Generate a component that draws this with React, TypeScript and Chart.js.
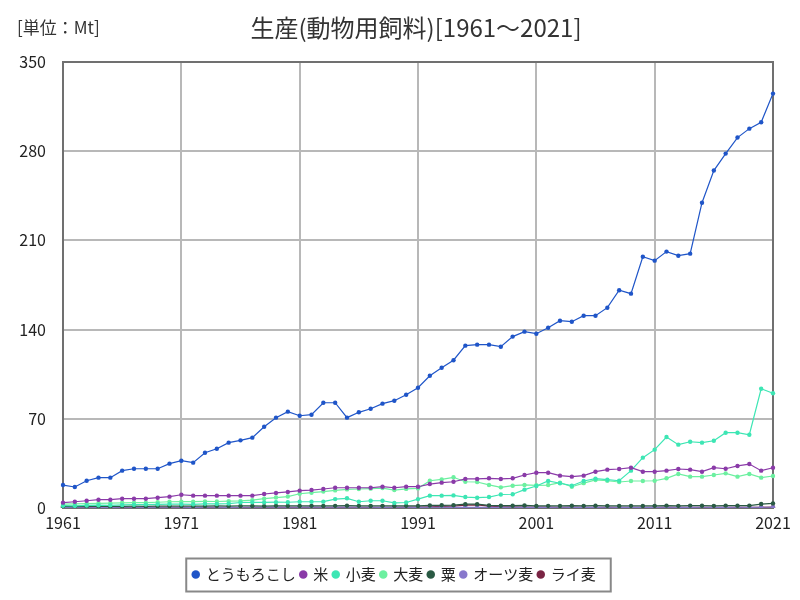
import React, { useEffect, useRef } from "react";
import { Chart, registerables } from "chart.js";

Chart.register(...registerables);

const years = [
  "1961","1962","1963","1964","1965","1966","1967","1968","1969","1970",
  "1971","1972","1973","1974","1975","1976","1977","1978","1979","1980",
  "1981","1982","1983","1984","1985","1986","1987","1988","1989","1990",
  "1991","1992","1993","1994","1995","1996","1997","1998","1999","2000",
  "2001","2002","2003","2004","2005","2006","2007","2008","2009","2010",
  "2011","2012","2013","2014","2015","2016","2017","2018","2019","2020","2021",
];
const xTickLabels = ["1961", "1971", "1981", "1991", "2001", "2011", "2021"];
const yTicks = [0, 70, 140, 210, 280, 350];

const corn = [
  18.0, 16.5, 21.4, 23.8, 23.8, 29.3, 30.8, 30.8, 30.8, 34.8,
  37.1, 35.6, 43.4, 46.5, 51.3, 53.1, 55.2, 63.8, 70.9, 75.6,
  72.4, 73.2, 82.6, 82.6, 70.9, 75.1, 77.9, 81.9, 84.2, 88.9,
  94.4, 103.8, 110.1, 116.0, 127.4, 128.2, 128.2, 126.6, 134.5, 138.4,
  136.8, 141.5, 147.0, 146.2, 150.9, 150.9, 157.2, 170.9, 168.2, 197.2,
  194.1, 201.2, 198.0, 199.6, 239.6, 264.8, 278.1, 290.7, 297.7, 302.7, 325.2,
];
const rice = [
  4.2, 4.9, 5.7, 6.5, 6.5, 7.3, 7.3, 7.3, 8.1, 8.9,
  10.4, 9.7, 9.7, 9.7, 9.7, 9.7, 9.7, 11.0, 11.8, 12.6,
  13.6, 14.1, 14.9, 15.9, 15.9, 15.9, 15.9, 16.7, 15.9, 16.7,
  16.7, 18.8, 19.9, 20.6, 22.8, 22.8, 23.3, 22.8, 23.3, 25.9,
  27.7, 27.7, 25.4, 24.6, 25.4, 28.5, 30.1, 30.6, 31.6, 28.5,
  28.5, 29.3, 30.6, 30.1, 28.5, 31.6, 30.8, 33.0, 34.5, 29.3, 31.6,
];
const wheat = [
  1.8, 1.6, 2.0, 2.2, 2.1, 2.4, 2.6, 2.7, 2.9, 3.1,
  3.0, 2.9, 3.3, 3.2, 3.5, 4.3, 4.5, 4.4, 4.6, 4.5,
  4.9, 4.9, 5.0, 7.0, 7.6, 4.9, 5.7, 5.7, 4.0, 4.3,
  7.0, 9.7, 9.7, 9.9, 8.6, 8.1, 8.6, 10.6, 10.8, 14.4,
  17.3, 21.2, 19.4, 17.5, 21.2, 23.0, 22.2, 21.4, 29.3, 39.5,
  45.8, 55.7, 49.7, 52.0, 51.3, 52.8, 59.1, 59.1, 57.5, 93.6, 90.0,
];
const barley = [
  3.1, 3.3, 3.4, 3.7, 3.8, 4.1, 4.2, 4.2, 4.5, 4.9,
  5.0, 5.0, 5.2, 5.1, 5.4, 5.6, 6.2, 7.3, 8.2, 9.0,
  11.2, 12.0, 12.9, 13.8, 14.6, 14.9, 15.2, 15.6, 14.1, 15.0,
  15.4, 21.4, 22.4, 24.1, 20.6, 20.4, 18.1, 16.2, 17.5, 18.1,
  17.8, 18.0, 19.9, 16.7, 19.5, 22.0, 21.4, 20.4, 21.2, 21.2,
  21.4, 23.3, 26.7, 24.6, 24.6, 25.9, 27.2, 24.6, 26.7, 23.8, 25.1,
];
const millet = [
  1.2, 1.1, 1.2, 1.3, 1.2, 1.3, 1.4, 1.3, 1.4, 1.5,
  1.5, 1.4, 1.5, 1.6, 1.5, 1.6, 1.6, 1.5, 1.7, 1.6,
  1.6, 1.7, 1.6, 1.7, 1.8, 1.7, 1.6, 1.7, 1.6, 1.7,
  1.6, 2.0, 2.1, 2.2, 3.0, 3.0, 2.0, 1.8, 1.8, 2.0,
  1.6, 1.7, 1.6, 1.8, 1.7, 1.8, 1.7, 1.6, 1.7, 1.6,
  1.7, 1.9, 1.7, 1.9, 1.8, 1.7, 1.9, 1.8, 1.9, 3.1, 3.6,
];
const oats = [
  0.5, 0.5, 0.6, 0.5, 0.5, 0.6, 0.6, 0.5, 0.6, 0.6,
  0.6, 0.5, 0.6, 0.6, 0.5, 0.6, 0.6, 0.6, 0.7, 0.6,
  0.6, 0.7, 0.6, 0.6, 0.7, 0.6, 0.6, 0.5, 0.6, 0.6,
  0.5, 0.6, 0.6, 0.5, 0.5, 0.6, 0.5, 0.5, 0.6, 0.5,
  0.5, 0.5, 0.6, 0.5, 0.5, 0.5, 0.6, 0.5, 0.5, 0.5,
  0.5, 0.6, 0.5, 0.5, 0.6, 0.5, 0.5, 0.6, 0.5, 0.6, 0.6,
];
const rye = [
  0.3, 0.3, 0.4, 0.3, 0.3, 0.4, 0.4, 0.3, 0.4, 0.4,
  0.4, 0.4, 0.4, 0.5, 0.4, 0.4, 0.5, 0.4, 0.5, 0.5,
  0.5, 0.5, 0.6, 0.5, 0.6, 0.6, 0.5, 0.6, 0.6, 0.7,
  0.8, 1.0, 1.2, 1.5, 2.2, 2.4, 1.4, 1.0, 0.9, 0.8,
  0.7, 0.7, 0.6, 0.7, 0.6, 0.6, 0.6, 0.5, 0.6, 0.5,
  0.5, 0.6, 0.5, 0.6, 0.6, 0.5, 0.6, 0.5, 0.6, 0.6, 0.7,
];

const seriesNames = ["とうもろこし", "米", "小麦", "大麦", "粟", "オーツ麦", "ライ麦"];
const seriesValues = [corn, rice, wheat, barley, millet, oats, rye];
const seriesColors = ["#1f55c8", "#8a3aa8", "#3de6b4", "#6cf0a0", "#2a5a44", "#8878cc", "#7a2444"];

const titleText = "生産(動物用飼料)[1961～2021]";
const unitText = "[単位：Mt]";

const FONT = "'Noto Sans CJK JP', 'Noto Sans', sans-serif";

const decorPlugin = {
  id: "decor",
  afterLayout(chart: any) {
    const lg = chart.legend;
    if (lg) {
      lg.left += 8;
      lg.right += 8;
    }
  },
  beforeDatasetsDraw(chart: any) {
    const { ctx, chartArea: a } = chart;
    ctx.save();
    ctx.strokeStyle = "#707070";
    ctx.lineWidth = 2;
    ctx.strokeRect(a.left, a.top, a.right - a.left, a.bottom - a.top);
    ctx.restore();
  },
  afterDraw(chart: any) {
    const { ctx } = chart;
    ctx.save();
    ctx.fillStyle = "#333333";
    ctx.textBaseline = "middle";
    ctx.font = `24px ${FONT}`;
    ctx.textAlign = "center";
    ctx.fillText(titleText, 416, 28);
    ctx.font = `17px ${FONT}`;
    ctx.textAlign = "left";
    ctx.fillText(unitText, 17, 28);
    const lg = chart.legend;
    const hb = lg && lg.legendHitBoxes;
    if (hb && hb.length) {
      let l = Infinity, r = -Infinity, t = Infinity, b = -Infinity;
      for (const h of hb) {
        l = Math.min(l, h.left);
        r = Math.max(r, h.left + h.width);
        t = Math.min(t, h.top);
        b = Math.max(b, h.top + h.height);
      }
      const cy = (t + b) / 2;
      ctx.strokeStyle = "#888888";
      ctx.lineWidth = 2;
      ctx.strokeRect(l - 7, cy - 16, r - l + 22, 33);
    }
    ctx.restore();
  },
};

export default function App() {
  const ref = useRef<HTMLCanvasElement | null>(null);
  useEffect(() => {
    if (!ref.current) return;
    const chart = new Chart(ref.current, {
      type: "line",
      data: {
        labels: years,
        datasets: seriesNames.map((name, i) => ({
          label: name,
          data: seriesValues[i],
          borderColor: seriesColors[i],
          backgroundColor: seriesColors[i],
          pointBackgroundColor: seriesColors[i],
          pointBorderColor: seriesColors[i],
          borderWidth: 1.2,
          pointRadius: 2.2,
          pointBorderWidth: 0,
          tension: 0,
          fill: false,
        })),
      },
      options: {
        animation: false,
        responsive: false,
        maintainAspectRatio: false,
        layout: { padding: { top: 62, left: 0, right: 27, bottom: 8 } },
        plugins: {
          title: { display: false },
          tooltip: { enabled: false },
          legend: {
            display: true,
            position: "bottom",
            labels: {
              usePointStyle: true,
              pointStyle: "circle",
              boxWidth: 5,
              boxHeight: 6,
              padding: 5,
              color: "#222222",
              font: { family: FONT, size: 15 },
            },
          },
        },
        scales: {
          x: {
            type: "category",
            offset: false,
            border: { display: false },
            grid: { color: "#b8b8b8", lineWidth: 2, drawTicks: false },
            ticks: {
              autoSkip: false,
              maxRotation: 0,
              minRotation: 0,
              padding: 5,
              color: "#222222",
              font: { family: FONT, size: 16 },
              callback: function (this: any, _v: any, idx: number) {
                const lab = years[idx];
                return xTickLabels.includes(lab) ? lab : null;
              },
            },
            afterFit: (s: any) => {
              s.height = 54;
            },
          },
          y: {
            min: yTicks[0],
            max: yTicks[yTicks.length - 1],
            border: { display: false },
            grid: { color: "#b8b8b8", lineWidth: 2, drawTicks: false },
            ticks: {
              stepSize: yTicks[1] - yTicks[0],
              padding: 17,
              color: "#222222",
              font: { family: FONT, size: 16 },
            },
            afterFit: (s: any) => {
              s.width = 63;
            },
          },
        },
      },
      plugins: [decorPlugin],
    });
    return () => chart.destroy();
  }, []);
  return (
    <div style={{ position: "absolute", left: 0, top: 0, width: 800, height: 600, background: "#fff" }}>
      <canvas ref={ref} width={800} height={600} style={{ width: 800, height: 600, display: "block" }} />
    </div>
  );
}
